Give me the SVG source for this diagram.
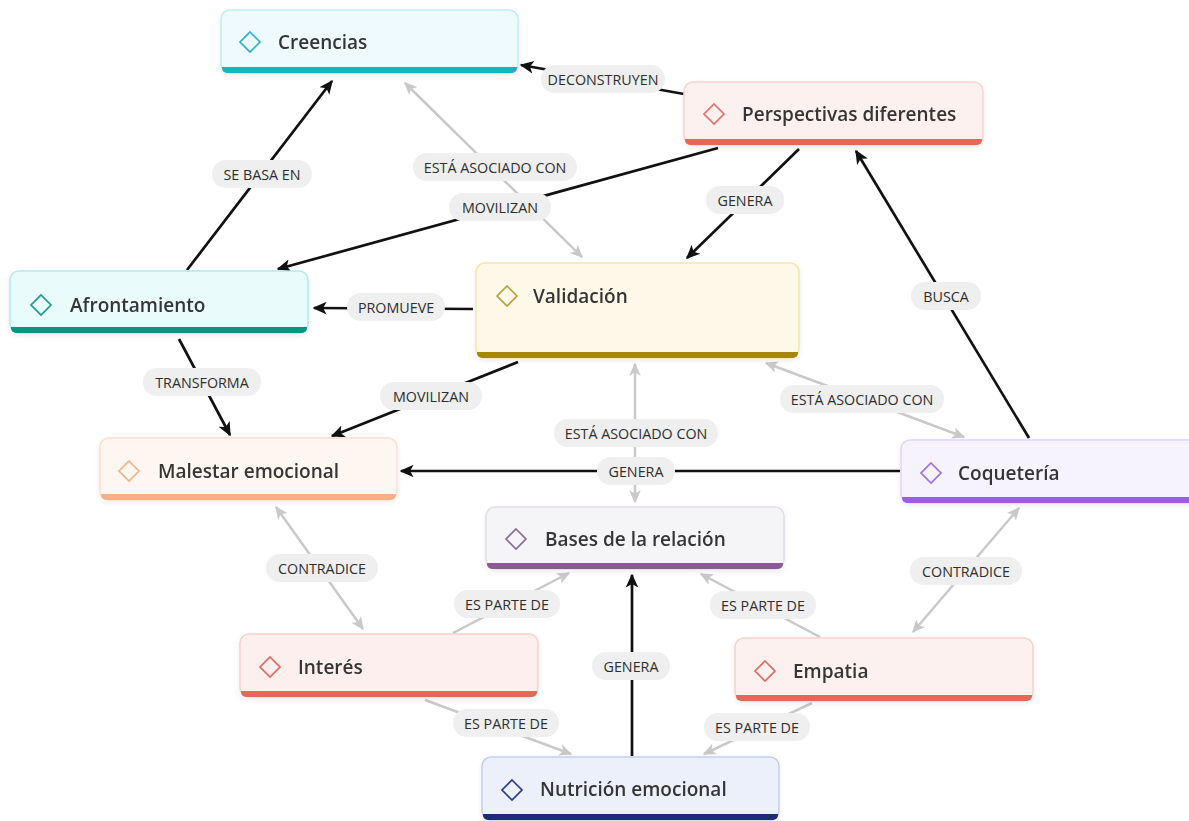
<svg xmlns="http://www.w3.org/2000/svg" width="1189" height="821" viewBox="0 0 1189 821">
<style>
.nt{font-family:"Open Sans","Noto Sans","Liberation Sans",sans-serif;font-weight:600;font-size:19px;fill:#363636}
.lt{font-family:"Open Sans","Noto Sans","Liberation Sans",sans-serif;font-size:14.3px;fill:#2e2e2e;text-anchor:middle;dominant-baseline:central}
.pill{fill:#efefef}
.cb{stroke:#111;stroke-width:2.7;fill:none;marker-end:url(#ab)}
.cg{stroke:#c9c9c9;stroke-width:2.5;fill:none;marker-end:url(#ag)}
.cg2{stroke:#c9c9c9;stroke-width:2.5;fill:none;marker-end:url(#ag);marker-start:url(#ag)}
.box{stroke-width:1.5}
.dm{fill:none;stroke-width:1.7}
</style>
<defs>
<marker id="ab" viewBox="0 0 10 10" refX="9" refY="5" markerWidth="14" markerHeight="14" markerUnits="userSpaceOnUse" orient="auto-start-reverse"><path d="M0,0.5 L10,5 L0,9.5 L2.5,5Z" fill="#111"/></marker>
<marker id="ag" viewBox="0 0 10 10" refX="9" refY="5" markerWidth="13" markerHeight="13" markerUnits="userSpaceOnUse" orient="auto-start-reverse"><path d="M0,0.5 L10,5 L0,9.5 L2.5,5Z" fill="#c9c9c9"/></marker>
<filter id="sh" x="-10%" y="-20%" width="120%" height="150%"><feDropShadow dx="0" dy="2" stdDeviation="2.5" flood-color="#000" flood-opacity="0.08"/></filter>
</defs>
<rect width="1189" height="821" fill="#ffffff"/>

<g id="connectors">
<line class="cb" x1="684" y1="94" x2="521" y2="65"/>
<line class="cb" x1="187" y1="270" x2="332" y2="81"/>
<line class="cg2" x1="405" y1="83" x2="582" y2="257"/>
<line class="cb" x1="718" y1="148" x2="278" y2="269"/>
<line class="cb" x1="799" y1="149" x2="687" y2="258"/>
<line class="cb" x1="1029" y1="438" x2="856" y2="151"/>
<line class="cb" x1="473" y1="309" x2="314" y2="308"/>
<line class="cb" x1="179" y1="339" x2="230" y2="435"/>
<line class="cb" x1="518" y1="362" x2="332" y2="436"/>
<line class="cg2" x1="635" y1="364" x2="635" y2="502"/>
<line class="cb" x1="900" y1="471" x2="401" y2="471"/>
<line class="cg2" x1="766" y1="363" x2="964" y2="437"/>
<line class="cg2" x1="276" y1="507" x2="363" y2="629"/>
<line class="cg" x1="453" y1="633" x2="569" y2="573"/>
<line class="cb" x1="632" y1="756" x2="632" y2="575"/>
<line class="cg" x1="820" y1="637" x2="701" y2="574"/>
<line class="cg2" x1="913" y1="632" x2="1019" y2="508"/>
<line class="cg" x1="425" y1="700" x2="571" y2="754"/>
<line class="cg" x1="812" y1="703" x2="704" y2="754"/>

<g id="labels">
<rect class="pill" x="541" y="65" width="124" height="28" rx="14"/><text class="lt" x="603" y="79">DECONSTRUYEN</text>
<rect class="pill" x="212" y="160" width="100" height="28" rx="14"/><text class="lt" x="262" y="174">SE BASA EN</text>
<rect class="pill" x="413" y="153" width="164" height="28" rx="14"/><text class="lt" x="495" y="167">ESTÁ ASOCIADO CON</text>
<rect class="pill" x="449" y="193" width="102" height="28" rx="14"/><text class="lt" x="500" y="207">MOVILIZAN</text>
<rect class="pill" x="706" y="186" width="78" height="28" rx="14"/><text class="lt" x="745" y="200">GENERA</text>
<rect class="pill" x="911" y="282" width="70" height="28" rx="14"/><text class="lt" x="946" y="296">BUSCA</text>
<rect class="pill" x="347" y="293" width="98" height="28" rx="14"/><text class="lt" x="396" y="307">PROMUEVE</text>
<rect class="pill" x="143" y="368" width="118" height="28" rx="14"/><text class="lt" x="202" y="382">TRANSFORMA</text>
<rect class="pill" x="380" y="382" width="102" height="28" rx="14"/><text class="lt" x="431" y="396">MOVILIZAN</text>
<rect class="pill" x="554" y="419" width="164" height="28" rx="14"/><text class="lt" x="636" y="433">ESTÁ ASOCIADO CON</text>
<rect class="pill" x="780" y="385" width="164" height="28" rx="14"/><text class="lt" x="862" y="399">ESTÁ ASOCIADO CON</text>
<rect class="pill" x="597" y="457" width="78" height="28" rx="14"/><text class="lt" x="636" y="471">GENERA</text>
<rect class="pill" x="266" y="554" width="112" height="28" rx="14"/><text class="lt" x="322" y="568">CONTRADICE</text>
<rect class="pill" x="910" y="557" width="112" height="28" rx="14"/><text class="lt" x="966" y="571">CONTRADICE</text>
<rect class="pill" x="454" y="590" width="106" height="28" rx="14"/><text class="lt" x="507" y="604">ES PARTE DE</text>
<rect class="pill" x="710" y="591" width="106" height="28" rx="14"/><text class="lt" x="763" y="605">ES PARTE DE</text>
<rect class="pill" x="592" y="652" width="78" height="28" rx="14"/><text class="lt" x="631" y="666">GENERA</text>
<rect class="pill" x="453" y="709" width="106" height="28" rx="14"/><text class="lt" x="506" y="723">ES PARTE DE</text>
<rect class="pill" x="704" y="713" width="106" height="28" rx="14"/><text class="lt" x="757" y="727">ES PARTE DE</text>
</g>
</g>

<g id="creencias" transform="translate(221,10)" filter="url(#sh)">
<rect class="box" x="0" y="0" width="297" height="63" rx="9" fill="#eefafd" stroke="#bdeef5"/>
<path d="M1,57 H296 V58 A5,5 0 0 1 291,63 H6 A5,5 0 0 1 1,58Z" fill="#17b2c6"/>
<path class="dm" d="M29,22 L39,32 L29,42 L19,32Z" stroke="#2ab4c6"/>
<text class="nt" x="57" y="39">Creencias</text>
</g>

<g id="perspectivas" transform="translate(684,82)" filter="url(#sh)">
<rect class="box" x="0" y="0" width="299" height="63" rx="9" fill="#fdf1ef" stroke="#f8d4cf"/>
<path d="M1,57 H298 V58 A5,5 0 0 1 293,63 H6 A5,5 0 0 1 1,58Z" fill="#e6665a"/>
<path class="dm" d="M30,22 L40,32 L30,42 L20,32Z" stroke="#e0736a"/>
<text class="nt" x="58" y="39">Perspectivas diferentes</text>
</g>

<g id="afrontamiento" transform="translate(10,271)" filter="url(#sh)">
<rect class="box" x="0" y="0" width="298" height="62" rx="9" fill="#e9fbfa" stroke="#b2ece6"/>
<path d="M1,56 H297 V57 A5,5 0 0 1 292,62 H6 A5,5 0 0 1 1,57Z" fill="#0e9381"/>
<path class="dm" d="M31,24 L41,34 L31,44 L21,34Z" stroke="#1c9a8a"/>
<text class="nt" x="60" y="41">Afrontamiento</text>
</g>

<g id="validacion" transform="translate(476,263)" filter="url(#sh)">
<rect class="box" x="0" y="0" width="323" height="95" rx="9" fill="#fdf8e8" stroke="#f5e6a9"/>
<path d="M1,89 H322 V90 A5,5 0 0 1 317,95 H6 A5,5 0 0 1 1,90Z" fill="#a5870c"/>
<path class="dm" d="M31,23 L41,33 L31,43 L21,33Z" stroke="#b8a03a"/>
<text class="nt" x="57" y="40">Validación</text>
</g>

<g id="coqueteria" transform="translate(901,440)" filter="url(#sh)">
<rect class="box" x="0" y="0" width="300" height="63" rx="9" fill="#f7f3fc" stroke="#e2d5f5"/>
<path d="M1,57 H299 V58 A5,5 0 0 1 294,63 H6 A5,5 0 0 1 1,58Z" fill="#9b5de5"/>
<path class="dm" d="M30,23 L40,33 L30,43 L20,33Z" stroke="#9d6fe0"/>
<text class="nt" x="57" y="40">Coquetería</text>
</g>

<g id="malestar" transform="translate(100,438)" filter="url(#sh)">
<rect class="box" x="0" y="0" width="297" height="62" rx="9" fill="#fef6f0" stroke="#fbe0cf"/>
<path d="M1,56 H296 V57 A5,5 0 0 1 291,62 H6 A5,5 0 0 1 1,57Z" fill="#f5b185"/>
<path class="dm" d="M29,23 L39,33 L29,43 L19,33Z" stroke="#f0b48a"/>
<text class="nt" x="58" y="40">Malestar emocional</text>
</g>

<g id="bases" transform="translate(486,507)" filter="url(#sh)">
<rect class="box" x="0" y="0" width="298" height="62" rx="9" fill="#f5f4f7" stroke="#e2dde8"/>
<path d="M1,56 H297 V57 A5,5 0 0 1 292,62 H6 A5,5 0 0 1 1,57Z" fill="#8a5a92"/>
<path class="dm" d="M30,22 L40,32 L30,42 L20,32Z" stroke="#8a6a9a"/>
<text class="nt" x="59" y="39">Bases de la relación</text>
</g>

<g id="interes" transform="translate(240,634)" filter="url(#sh)">
<rect class="box" x="0" y="0" width="298" height="63" rx="9" fill="#fdefed" stroke="#f6d2cd"/>
<path d="M1,57 H297 V58 A5,5 0 0 1 292,63 H6 A5,5 0 0 1 1,58Z" fill="#e6665a"/>
<path class="dm" d="M30,23 L40,33 L30,43 L20,33Z" stroke="#e06a60"/>
<text class="nt" x="58" y="40">Interés</text>
</g>

<g id="empatia" transform="translate(735,638)" filter="url(#sh)">
<rect class="box" x="0" y="0" width="298" height="63" rx="9" fill="#fdf1ef" stroke="#f6d2cd"/>
<path d="M1,57 H297 V58 A5,5 0 0 1 292,63 H6 A5,5 0 0 1 1,58Z" fill="#e6665a"/>
<path class="dm" d="M30,23 L40,33 L30,43 L20,33Z" stroke="#e06a60"/>
<text class="nt" x="58" y="40">Empatia</text>
</g>

<g id="nutricion" transform="translate(482,757)" filter="url(#sh)">
<rect class="box" x="0" y="0" width="297" height="63" rx="9" fill="#ecf0fb" stroke="#c5cdef"/>
<path d="M1,57 H296 V58 A5,5 0 0 1 291,63 H6 A5,5 0 0 1 1,58Z" fill="#1b2a78"/>
<path class="dm" d="M30,23 L40,33 L30,43 L20,33Z" stroke="#2a3a88"/>
<text class="nt" x="58" y="39">Nutrición emocional</text>
</g>
</svg>
